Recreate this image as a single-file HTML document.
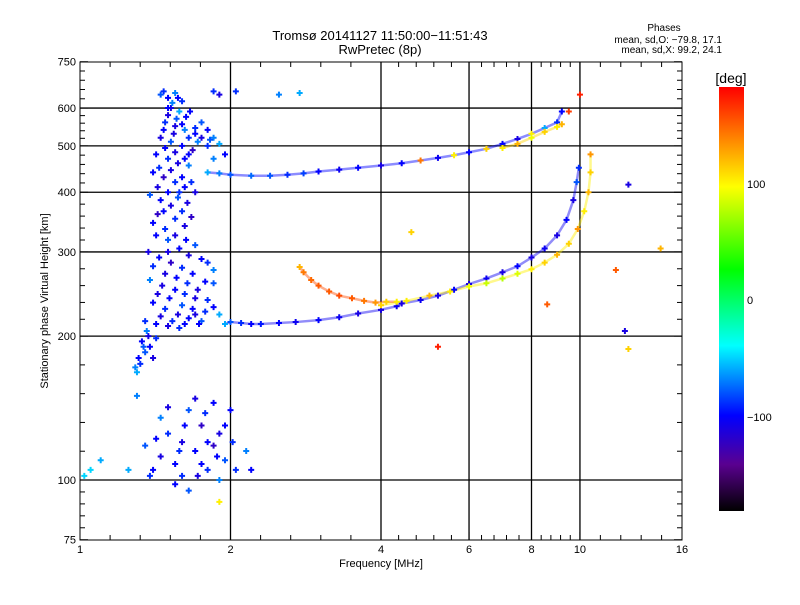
<!DOCTYPE html>
<html><head><meta charset="utf-8"><style>
body{margin:0;background:#fff;}
svg text{font-family:"Liberation Sans",sans-serif;fill:#000;}
</style></head><body>
<svg id="chart" width="800" height="600" xmlns="http://www.w3.org/2000/svg">
<defs><linearGradient id="cb" x1="0" y1="0" x2="0" y2="1">
<stop offset="0" stop-color="#ff0000"/><stop offset="0.11" stop-color="#ff7800"/><stop offset="0.235" stop-color="#ffff00"/><stop offset="0.43" stop-color="#00ff00"/><stop offset="0.61" stop-color="#00ffff"/><stop offset="0.775" stop-color="#0000ff"/><stop offset="0.89" stop-color="#5a0090"/><stop offset="1" stop-color="#000000"/></linearGradient></defs>
<g id="grid"></g>
<g id="marks"></g>
<rect x="80" y="62" width="602" height="478" fill="none" stroke="#000" stroke-width="1"/>
<g id="ticks"></g>
<text x="380" y="40" font-size="13" text-anchor="middle">Tromsø 20141127 11:50:00−11:51:43</text>
<text x="380" y="54" font-size="13" text-anchor="middle">RwPretec (8p)</text>
<text x="664" y="31" font-size="10" text-anchor="middle">Phases</text>
<text x="722" y="43" font-size="10" text-anchor="end">mean, sd,O: −79.8, 17.1</text>
<text x="722" y="53" font-size="10" text-anchor="end">mean, sd,X:  99.2, 24.1</text>
<text x="381" y="567" font-size="11" text-anchor="middle">Frequency [MHz]</text>
<text transform="translate(48,301) rotate(-90)" font-size="11" text-anchor="middle">Stationary phase Virtual Height [km]</text>
<rect x="719" y="87" width="25" height="424" fill="url(#cb)"/>
<text x="731" y="83" font-size="14" text-anchor="middle">[deg]</text>
<text x="747" y="188" font-size="11">100</text>
<text x="747" y="304" font-size="11">0</text>
<text x="747" y="421" font-size="11">−100</text>
</svg>
<script>
const xTicks=[1,2,4,6,8,10,16];
const yTicks=[75,100,200,300,400,500,600,750];
const xGrid=[2,4,6,8,10];
const yGrid=[100,200,300,400,500,600];
// [freq MHz, height km, phase deg]
const traceO=[[1.95,212,-60],[2.0,214,-80],[2.1,213,-90],[2.2,212,-100],[2.3,212,-95],[2.5,213,-100],[2.7,214,-105],[3.0,216,-100],[3.3,219,-105],[3.6,223,-110],[4.0,227,-110],[4.3,231,-105],[4.4,234,-110],[4.8,238,-105],[5.2,243,-110],[5.6,250,-100],[6.0,257,-110],[6.5,264,-105],[7.0,272,-110],[7.5,280,-100],[8.0,292,-110],[8.5,305,-105],[9.0,325,-110],[9.4,350,-100],[9.7,385,-110],[9.85,420,-80],[9.95,450,-90]];
const traceX=[[4.0,232,110],[4.5,237,100],[5.0,243,120],[5.5,248,100],[6.0,254,90],[6.5,258,80],[7.0,264,75],[7.5,270,85],[8.0,276,100],[8.5,285,110],[9.0,296,120],[9.5,312,110],[9.9,335,130],[10.2,365,100],[10.4,400,120],[10.5,440,110],[10.5,480,130]];
const traceOrange=[[2.75,279,120],[2.8,272,140],[2.9,262,145],[3.0,255,150],[3.15,248,150],[3.3,243,155],[3.5,240,150],[3.7,237,140],[3.9,235,130],[4.1,236,110],[4.3,236,100]];
const traceF=[[1.8,440,-60],[1.9,438,-70],[2.0,435,-80],[2.2,433,-75],[2.4,433,-80],[2.6,435,-90],[2.8,438,-85],[3.0,442,-100],[3.3,446,-105],[3.6,450,-100],[4.0,455,-110],[4.4,460,-100],[4.8,466,140],[5.2,472,-105],[5.6,478,100],[6.0,485,-100],[6.5,493,110],[7.0,505,-100],[7.5,517,-110],[8.0,530,100],[8.5,545,-60],[9.0,560,-90],[9.2,590,-100]];
const traceF2=[[7.0,495,100],[7.5,505,120],[8.0,520,90],[8.5,535,110],[9.0,548,100],[9.2,555,120]];
const cloud=[[1.45,640,-80],[1.5,630,-100],[1.55,645,-70],[1.6,620,-90],[1.52,600,-110],[1.58,590,-60],[1.63,575,-100],[1.48,560,-90],[1.55,550,-110],[1.62,540,-70],[1.7,530,-100],[1.45,520,-110],[1.52,510,-80],[1.6,500,-100],[1.68,490,-120],[1.42,480,-100],[1.5,470,-90],[1.57,460,-110],[1.65,455,-70],[1.4,440,-100],[1.47,430,-120],[1.55,420,-90],[1.62,410,-100],[1.7,400,-110],[1.38,395,-80],[1.45,385,-100],[1.52,375,-110],[1.6,365,-90],[1.67,355,-120],[1.4,345,-100],[1.48,335,-90],[1.55,325,-110],[1.63,318,-100],[1.7,310,-80],[1.37,300,-110],[1.44,292,-100],[1.52,285,-120],[1.6,278,-90],[1.68,270,-100],[1.38,262,-70],[1.46,255,-110],[1.55,250,-100],[1.62,245,-90],[1.7,240,-110],[1.4,235,-100],[1.48,228,-90],[1.57,222,-110],[1.65,218,-100],[1.75,215,-80],[1.42,212,-100],[1.5,210,-110],[1.58,208,-90],[1.36,205,-70],[1.33,195,-100],[1.35,185,-80],[1.32,175,-90],[1.3,168,-60],[1.38,190,-100],[1.4,180,-110],[1.75,560,-80],[1.8,540,-100],[1.85,520,-70],[1.9,505,-60],[1.8,500,-90],[1.95,480,-100],[1.85,470,-70],[1.85,650,-90],[1.9,640,-110],[2.05,650,-90],[2.5,640,-70],[2.75,645,-60],[1.75,290,-100],[1.8,285,-90],[1.85,275,-70],[1.78,260,-100],[1.72,250,-110],[1.8,238,-90],[1.85,230,-100],[1.9,222,-60],[1.85,258,-80],[1.5,600,-100],[1.43,360,-120],[1.58,400,-90],[1.5,300,-110],[1.65,480,-100]];
const cloud2=[[1.47,650,-90],[1.53,615,-70],[1.57,630,-100],[1.5,580,-110],[1.56,570,-80],[1.6,555,-100],[1.65,520,-90],[1.72,510,-70],[1.48,495,-100],[1.55,485,-110],[1.62,470,-100],[1.44,450,-90],[1.52,445,-110],[1.6,430,-100],[1.67,420,-90],[1.43,410,-110],[1.5,400,-100],[1.57,390,-80],[1.64,380,-110],[1.47,365,-100],[1.55,352,-90],[1.62,340,-110],[1.42,325,-100],[1.5,318,-80],[1.58,305,-100],[1.65,295,-110],[1.4,280,-90],[1.48,270,-110],[1.56,265,-100],[1.64,258,-90],[1.43,245,-110],[1.51,240,-100],[1.6,232,-80],[1.68,228,-100],[1.45,220,-110],[1.53,215,-90],[1.62,212,-100],[1.7,222,-110],[1.78,225,-90],[1.73,212,-100],[1.35,215,-90],[1.37,200,-110],[1.34,190,-80],[1.31,180,-100],[1.29,172,-70],[1.42,198,-90],[1.75,520,-110],[1.82,515,-80],[1.7,545,-90],[1.66,590,-100],[1.54,530,-110],[1.47,540,-100]];
const lower=[[1.35,118,-80],[1.4,105,-100],[1.45,112,-110],[1.5,125,-90],[1.55,108,-100],[1.6,120,-110],[1.65,140,-80],[1.7,115,-100],[1.75,130,-120],[1.8,105,-90],[1.85,145,-100],[1.9,125,-110],[1.95,110,-80],[2.0,140,-100],[2.05,105,-90],[1.45,135,-70],[1.55,98,-100],[1.6,102,-90],[1.7,148,-110],[1.8,120,-100],[1.9,100,-70],[1.38,102,-90],[1.5,142,-110],[1.65,95,-80],[1.75,108,-100],[1.85,118,-120],[1.95,130,-100],[2.02,120,-90],[2.2,105,-100],[1.05,105,-50],[1.1,110,-60],[1.02,102,-50],[1.25,105,-60],[1.3,150,-70],[2.15,115,-70],[1.9,90,100],[1.42,122,-100],[1.58,115,-90],[1.72,102,-110],[1.88,112,-100],[1.62,130,-100],[1.78,138,-90]];
const outliers=[[12.5,415,-110],[14.5,305,120],[12.3,205,-110],[12.5,188,110],[11.8,275,150],[9.5,590,160],[10.0,640,170],[5.2,190,170],[8.6,233,150],[4.6,330,110]];
const N=document.getElementById('marks'),G=document.getElementById('grid'),T=document.getElementById('ticks');
const NS='http://www.w3.org/2000/svg';
function xs(f){return 80+150.5*Math.log2(f);}
function ys(h){return 480-478*Math.log10(h/100);}
const stops=[[180,[255,0,0]],[140,[255,120,0]],[95,[255,255,0]],[25,[0,255,0]],[-40,[0,255,255]],[-100,[0,0,255]],[-140,[90,0,144]],[-180,[0,0,0]]];
function col(p){for(let i=0;i<stops.length-1;i++){const a=stops[i],b=stops[i+1];if(p<=a[0]&&p>=b[0]){const t=(a[0]-p)/(a[0]-b[0]);const c=a[1].map((v,k)=>Math.round(v+(b[1][k]-v)*t));return `rgb(${c})`;}}return p>180?'rgb(255,0,0)':'rgb(0,0,0)';}
function line(par,x1,y1,x2,y2,w){const l=document.createElementNS(NS,'line');l.setAttribute('x1',x1);l.setAttribute('y1',y1);l.setAttribute('x2',x2);l.setAttribute('y2',y2);l.setAttribute('stroke','#000');l.setAttribute('stroke-width',w||1);par.appendChild(l);return l;}
xGrid.forEach(v=>{const l=line(G,xs(v),62,xs(v),540,1.3);

});
yGrid.forEach(v=>{const l=line(G,80,ys(v),682,ys(v),1.3);

});
function txt(x,y,s,anchor){const t=document.createElementNS(NS,'text');t.setAttribute('x',x);t.setAttribute('y',y);t.setAttribute('font-size','11');t.setAttribute('text-anchor',anchor);t.textContent=s;T.appendChild(t);return t;}
xTicks.forEach((v,i)=>{const x=xs(v);line(T,x,540,x,532);line(T,x,62,x,70);
const t=txt(x,553,String(v),'middle');


if(i<xTicks.length-1){const x2=xs(xTicks[i+1]);for(let k=1;k<5;k++){const xx=x+(x2-x)*k/5;line(T,xx,540,xx,535);line(T,xx,62,xx,67);}}});
yTicks.forEach((v,i)=>{const y=ys(v);line(T,80,y,88,y);line(T,682,y,674,y);
const t=txt(76,y+4,String(v),'end');


if(i<yTicks.length-1){const y2=ys(yTicks[i+1]);for(let k=1;k<5;k++){const yy=y+(y2-y)*k/5;line(T,80,yy,85,yy);line(T,682,yy,677,yy);}}});
function trace(arr,name){const p=document.createElementNS(NS,'polyline');
p.setAttribute('points',arr.map(d=>xs(d[0])+','+ys(d[1])).join(' '));
p.setAttribute('fill','none');p.setAttribute('stroke',col(arr[Math.floor(arr.length/2)][2]));p.setAttribute('stroke-width','2.5');p.setAttribute('stroke-opacity','0.45');


N.appendChild(p);}
trace(traceO,'o-trace');trace(traceX,'x-trace');trace(traceOrange,'orange-trace');trace(traceF,'f-trace');trace(traceF2,'f2-trace');
function pts(arr,name){arr.forEach(d=>{const x=xs(d[0]),y=ys(d[1]);const p=document.createElementNS(NS,'path');
p.setAttribute('d',`M${x-3},${y}H${x+3}M${x},${y-3}V${y+3}`);p.setAttribute('stroke',col(d[2]));p.setAttribute('stroke-width','2');


N.appendChild(p);});}
pts(cloud,'spread-f');pts(cloud2,'spread-f');pts(lower,'e-region');pts(outliers,'outlier');pts(traceO,'o-trace');pts(traceX,'x-trace');pts(traceOrange,'orange-trace');pts(traceF,'f-trace');pts(traceF2,'f2-trace');
</script>
</body></html>
